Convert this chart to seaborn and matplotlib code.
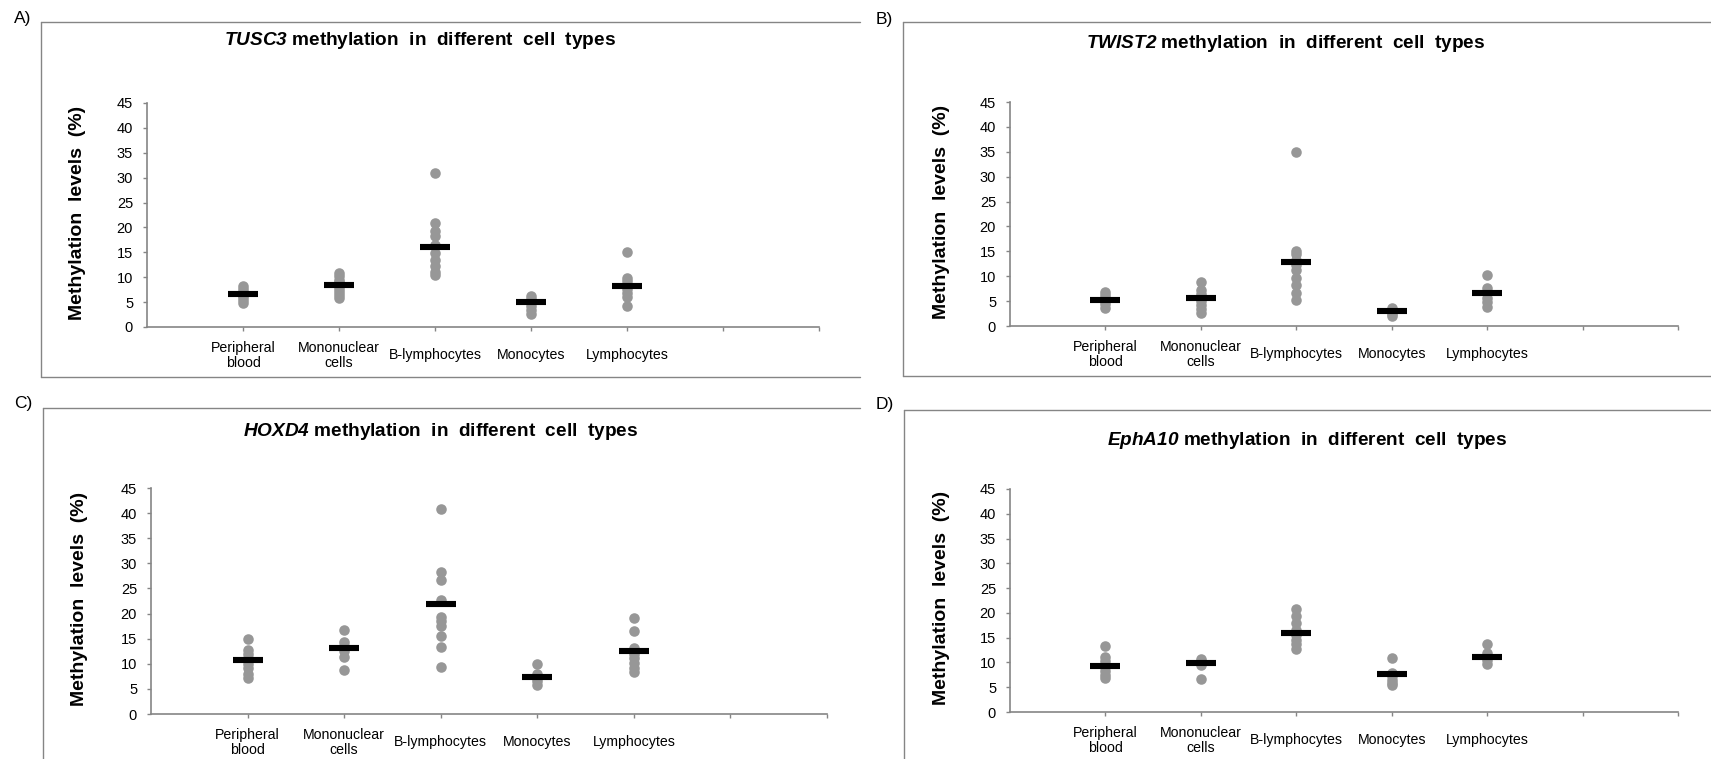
import matplotlib
matplotlib.use("Agg")
import matplotlib.pyplot as plt
from matplotlib.lines import Line2D
import pandas as pd
import seaborn as sns

# ---------------- data ----------------
cell_types = ["Peripheral\nblood", "Mononuclear\ncells", "B-lymphocytes", "Monocytes", "Lymphocytes"]
genes = ["TUSC3", "TWIST2", "HOXD4", "EphA10"]
panel_letters = ["A)", "B)", "C)", "D)"]
y_ticks = [0, 5, 10, 15, 20, 25, 30, 35, 40, 45]

tusc3_values = [
    [8.2, 7.6, 7.0, 6.5, 6.0, 5.5, 4.8],
    [10.8, 10.2, 9.5, 9.0, 8.3, 7.6, 7.0, 6.4, 5.8],
    [31.0, 20.8, 19.2, 18.3, 16.5, 14.8, 13.5, 12.2, 11.0, 10.4],
    [6.3, 5.7, 5.0, 4.2, 3.5, 2.7],
    [15.1, 9.9, 9.2, 8.5, 7.6, 6.8, 6.0, 4.3],
]
tusc3_means = [6.7, 8.5, 16.1, 5.0, 8.2]

twist2_values = [
    [6.8, 6.2, 5.6, 5.0, 4.4, 3.6],
    [8.8, 7.3, 6.5, 5.8, 5.0, 4.2, 3.5, 2.7],
    [35.0, 15.1, 14.4, 13.2, 12.2, 11.2, 9.6, 8.3, 6.6, 5.2],
    [3.6, 3.0, 2.5, 2.1],
    [10.3, 7.6, 6.8, 5.6, 4.8, 3.9],
]
twist2_means = [5.2, 5.6, 12.9, 3.1, 6.6]

hoxd4_values = [
    [14.9, 12.8, 12.0, 11.2, 10.0, 9.1, 8.0, 7.1],
    [16.7, 14.4, 13.5, 12.5, 11.4, 8.8],
    [40.9, 28.2, 26.7, 22.7, 19.3, 18.6, 17.5, 15.5, 13.3, 9.3],
    [9.9, 8.0, 7.2, 6.6, 5.8],
    [19.1, 16.5, 13.1, 12.0, 11.2, 10.2, 9.2, 8.4],
]
hoxd4_means = [10.75, 13.1, 21.9, 7.4, 12.55]

epha10_values = [
    [13.4, 11.0, 10.2, 9.0, 8.2, 7.5, 6.9],
    [10.6, 10.3, 9.9, 9.4, 6.7],
    [20.8, 19.4, 17.9, 16.5, 15.5, 14.6, 13.7, 12.8],
    [10.8, 7.9, 7.2, 6.5, 5.9, 5.5],
    [13.7, 12.0, 11.2, 10.5, 9.6],
]
epha10_means = [9.3, 9.8, 15.9, 7.6, 11.0]

all_values = [tusc3_values, twist2_values, hoxd4_values, epha10_values]
all_means = [tusc3_means, twist2_means, hoxd4_means, epha10_means]

# ---------------- layout (pixels) ----------------
W, H = 1711, 759
axes_px = [(147, 103, 819, 327), (1010, 102, 1678, 326),
           (151, 488, 827, 714), (1010, 489, 1678, 712)]
title_px = [(420, 45), (1286, 48), (441, 436), (1307, 445)]
letter_px = [(14, 11), (876, 12), (14, 396), (876, 397)]
frames_px = [(41, 22, 860, 377), (903, 22, 1711, 376),
             (43, 408, 860, None), (904, 410, 1711, None)]
ylabel_x = [-0.104, -0.103, -0.106, -0.103]

sns.set_style("white")
plt.rcParams["font.family"] = ["Liberation Sans", "DejaVu Sans"]
plt.rcParams["mathtext.fontset"] = "custom"
plt.rcParams["mathtext.rm"] = "Liberation Sans:italic:bold"
plt.rcParams["mathtext.it"] = "Liberation Sans:italic:bold"
plt.rcParams["mathtext.bf"] = "Liberation Sans:italic:bold"

fig = plt.figure(figsize=(W / 100, H / 100), dpi=100)
fig.patch.set_facecolor("white")

AXIS_GRAY = "#858585"
DOT_GRAY = "#979797"


def fx(x):
    return x / W


def fy(y):
    return 1 - y / H


for i in range(4):
    l, t, r, b = axes_px[i]
    ax = fig.add_axes([fx(l), fy(b), (r - l) / W, (b - t) / H])
    rows = []
    for c, vals in zip(cell_types, all_values[i]):
        for v in vals:
            rows.append({"cell": c, "value": v})
    df = pd.DataFrame(rows)
    mdf = pd.DataFrame({"cell": cell_types, "mean": all_means[i]})

    sns.stripplot(data=df, x="cell", y="value", order=cell_types, jitter=False,
                  color=DOT_GRAY, size=7.6, linewidth=0, ax=ax, zorder=2)
    sns.pointplot(data=mdf, x="cell", y="mean", order=cell_types, color="black",
                  marker="_", markersize=21.5, markeredgewidth=4.4,
                  linestyle="none", errorbar=None, ax=ax, zorder=3)

    ax.set_xlim(-1, 6)
    ax.set_ylim(0, 45)
    ax.set_xticks(range(7))
    ax.set_xticklabels(cell_types + ["", ""], fontsize=10.2, color="black")
    for lab in ax.get_xticklabels():
        lab.set_verticalalignment("center")
        lab.set_linespacing(1.1)
    ax.set_yticks(y_ticks)
    ax.set_yticklabels([str(v) for v in y_ticks], fontsize=10.5, color="black")
    ax.tick_params(axis="x", direction="out", length=3, width=1, color=AXIS_GRAY,
                   pad=17.5, bottom=True)
    ax.tick_params(axis="y", direction="out", length=3, width=1, color=AXIS_GRAY,
                   pad=7, left=True)
    for s in ["top", "right"]:
        ax.spines[s].set_visible(False)
    for s in ["left", "bottom"]:
        ax.spines[s].set_color(AXIS_GRAY)
        ax.spines[s].set_linewidth(1.2)
    ax.set_xlabel("")
    ax.set_ylabel("Methylation  levels  (%)", fontsize=14, fontweight="bold",
                  color="black")
    ax.yaxis.label.set_verticalalignment("center")
    ax.yaxis.set_label_coords(ylabel_x[i], 0.51)
    ax.set_facecolor("none")

    tx, ty = title_px[i]
    fig.text(fx(tx), fy(ty), r"$\mathrm{%s}$ methylation  in  different  cell  types" % genes[i],
             ha="center", va="baseline", fontsize=13.7, fontweight="bold", color="black")
    lx, ly = letter_px[i]
    fig.text(fx(lx), fy(ly), panel_letters[i], ha="left", va="top", fontsize=12.5,
             color="black")

    fl, ft, fr, fb = frames_px[i]
    bottom = fb if fb is not None else H
    fig.add_artist(Line2D([fx(fl), fx(fl)], [fy(ft), fy(bottom)], color=AXIS_GRAY, lw=1.0))
    fig.add_artist(Line2D([fx(fl), fx(fr)], [fy(ft), fy(ft)], color=AXIS_GRAY, lw=1.0))
    if fb is not None:
        fig.add_artist(Line2D([fx(fl), fx(fr)], [fy(fb), fy(fb)], color=AXIS_GRAY, lw=1.0))

fig.savefig("out.png", dpi=100, facecolor="white")
